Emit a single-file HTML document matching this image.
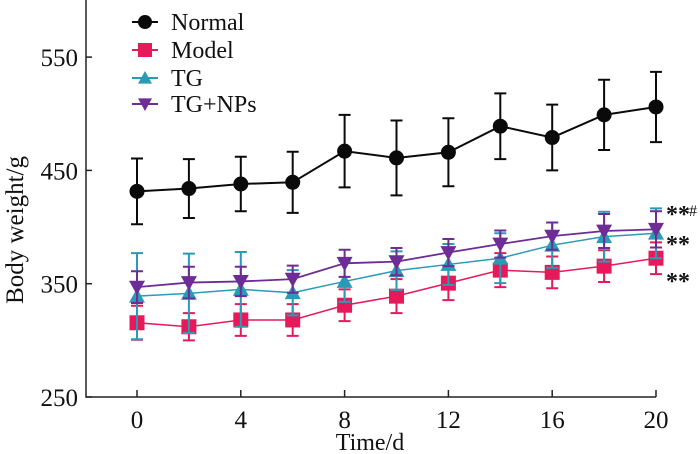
<!DOCTYPE html>
<html><head><meta charset="utf-8"><style>
body{margin:0;background:#fff}
svg{display:block;font-family:"Liberation Serif",serif}
</style></head><body>
<svg id="chart" width="700" height="454"></svg>
<script>
const days=[0,2,4,6,8,10,12,14,16,18,20];
const normalVals=[431.5,434,438,439.5,467,461,466,489,479,499,506];
const normalErr=[29,26,24,27,32,33,30,29,29,31,31];
const modelVals=[315.5,312,318,318,331,339,350.5,362,360,365.5,372.5];
const modelErr=[15,12,14,14,14,15,15,15,14,14,14];
const tgVals=[339,341.5,345,342,352,361.5,367,372.5,384,391.5,394.5];
const tgErr=[38,35,33,20,18,17,18,22,20,22,22];
const npVals=[347,351,352,354,368,369.5,377.5,385,392,396.5,398];
const npErr=[14,14,13,12,12,12,12,12,12,15,16];
const xTicks=[0,4,8,12,16,20];
const yTicks=[250,350,450,550];
const NS="http://www.w3.org/2000/svg";
const svg=document.getElementById('chart');
const X0=137,XS=25.95,Y0=397,YS=1.133;
const xs=v=>X0+v*XS, ys=v=>Y0-(v-250)*YS;
function mk(t,a,p){const e=document.createElementNS(NS,t);for(const k in a)e.setAttribute(k,a[k]);(p||svg).appendChild(e);return e;}
const ax=mk('path',{d:`M86,0 V${Y0} H656`,fill:'none',stroke:'#222','stroke-width':1.5});


yTicks.forEach(v=>{
  const tk=mk('line',{x1:86,x2:92,y1:ys(v),y2:ys(v),stroke:'#222','stroke-width':1.5});
  
  
  const t=mk('text',{x:78,y:ys(v)+9,'text-anchor':'end','font-size':25,fill:'#111'});t.textContent=v;
  
  
});
xTicks.forEach(v=>{
  const tk=mk('line',{x1:xs(v),x2:xs(v),y1:Y0,y2:Y0-7,stroke:'#222','stroke-width':1.5});
  
  
  const t=mk('text',{x:xs(v),y:428,'text-anchor':'middle','font-size':25,fill:'#111'});t.textContent=v;
  
  
});
const xt=mk('text',{x:370,y:450,'text-anchor':'middle','font-size':24,fill:'#111'});xt.textContent='Time/d';


const yt=mk('text',{transform:'translate(23,230) rotate(-90)','text-anchor':'middle','font-size':25,fill:'#111'});yt.textContent='Body weight/g';


function marker(shape,x,y,c,g,sz){
  let e;
  if(shape==='circle')e=mk('circle',{cx:x,cy:y,r:sz||7.5,fill:c},g);
  else if(shape==='square'){const s=sz||7.5;e=mk('rect',{x:x-s,y:y-s,width:2*s,height:2*s,fill:c},g);}
  else if(shape==='up'){const s=sz||8;e=mk('polygon',{points:`${x},${y-s} ${x+s},${y+s*0.8} ${x-s},${y+s*0.8}`,fill:c},g);}
  else {const s=sz||8;e=mk('polygon',{points:`${x},${y+s} ${x+s},${y-s*0.8} ${x-s},${y-s*0.8}`,fill:c},g);}
  return e;
}
function series(name,vals,err,c,shape,w){
  const g=mk('g',{});
  
  
  const ln=mk('polyline',{points:days.map((d,i)=>xs(d)+','+ys(vals[i])).join(' '),fill:'none',stroke:c,'stroke-width':w},g);
  
  
  days.forEach((d,i)=>{
    const x=xs(d),t=ys(vals[i]+err[i]),b=ys(vals[i]-err[i]);
    const eb=mk('path',{d:`M${x},${t}V${b}M${x-6},${t}H${x+6}M${x-6},${b}H${x+6}`,stroke:c,'stroke-width':2,fill:'none'},g);
    
    
  });
  days.forEach((d,i)=>{
    const m=marker(shape,xs(d),ys(vals[i]),c,g);
    
    
  });
}
series('model',modelVals,modelErr,'#e6195a','square',1.5);
series('tg',tgVals,tgErr,'#2a9ab5','up',1.5);
series('tg-nps',npVals,npErr,'#6d2c96','down',1.8);
series('normal',normalVals,normalErr,'#0a0a0a','circle',2);
const leg=[['Normal','#0a0a0a','circle',22],['Model','#e6195a','square',50],['TG','#2a9ab5','up',78],['TG+NPs','#6d2c96','down',104]];
leg.forEach(([n,c,s,y])=>{
  const g=mk('g',{});
  
  
  mk('line',{x1:132,x2:158,y1:y,y2:y,stroke:c,'stroke-width':2},g);
  marker(s,145,y,c,g,7);
  const t=mk('text',{x:171,y:y+8,'font-size':24,fill:'#111'},g);t.textContent=n;
});
[['**',210],['**',240],['**',277]].forEach(([s,y],i)=>{
  const t=mk('text',{x:666,y:y+12,'font-size':24,'font-weight':'bold',fill:'#111'});t.textContent=s;
  
  
  if(i===0){const h=mk('text',{x:689,y:y+6,'font-size':16,fill:'#111'});h.textContent='#';
    
    }
});
</script>
</body></html>
